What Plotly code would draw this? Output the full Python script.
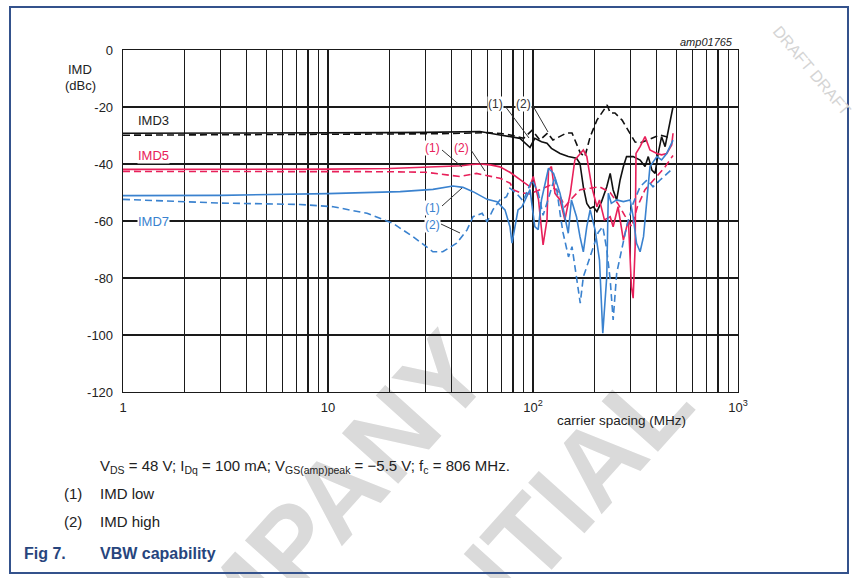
import plotly.graph_objects as go

# ---------------- data (carrier spacing MHz, IMD dBc) ----------------
imd3_low_x = [1, 3, 10, 20, 30, 40, 50, 55.1, 69, 86.4, 96.7, 102, 110, 117, 123, 135.5, 148.6, 163, 169.5,
              176, 183, 190, 197, 205, 216, 229, 238, 246, 256, 266, 276, 286, 308, 333, 352, 365, 380, 394,
              408, 424, 441, 457, 475, 482]
imd3_low_y = [-29.2, -29.2, -29.1, -29.0, -28.9, -28.7, -28.6, -28.6, -29.8, -31.0, -34.2, -31.0, -32.2, -32.7,
              -34.5, -36.3, -37.4, -38.0, -39.8, -48.0, -53.8, -55.6, -55.0, -56.7, -53.2, -48.0, -43.3, -49.1,
              -52.6, -45.6, -40.9, -37.4, -37.4, -38.6, -40.9, -37.4, -42.1, -43.3, -36.3, -30.4, -33.9, -28.1,
              -21.1, -19.9]

imd3_high_x = [1, 3, 10, 20, 30, 40, 50, 60, 70, 80, 90, 99, 108, 118, 125, 146, 155, 170, 179, 190, 205, 230,
               238, 251, 272, 291, 315, 333, 360, 394, 417, 451, 470]
imd3_high_y = [-29.9, -29.8, -29.7, -29.6, -29.4, -29.3, -29.1, -29.0, -29.3, -30.0, -31.0, -28.1, -31.6, -29.1,
               -31.6, -29.1, -29.1, -36.1, -37.5, -30.5, -24.6, -19.3, -22.1, -22.1, -24.6, -28.1, -32.3, -32.6,
               -31.6, -30.5, -29.8, -30.5, -29.5]

imd5_low_x = [1, 3, 10, 20, 30, 40, 45, 50, 55, 62, 69, 77.5, 86.4, 93.5, 96.7, 100.3, 106.4, 112, 117, 119, 123,
              128, 135.5, 143, 152, 160, 169.5, 176, 183, 193.5, 205, 211, 223, 238, 246, 260, 276, 292, 302,
              308, 315, 318, 333, 352, 372, 402, 424, 449, 475, 482]
imd5_low_y = [-41.9, -41.9, -41.8, -41.6, -41.2, -40.9, -40.6, -40.2, -40.0, -40.3, -41.0, -43.0, -45.5, -47.5,
              -48.0, -44.4, -52.6, -68.4, -59.6, -42.1, -40.9, -50.3, -52.6, -59.6, -50.3, -38.6, -36.3, -35.1,
              -37.4, -48.0, -55.0, -52.6, -59.6, -58.5, -62.0, -55.0, -66.7, -59.6, -83.0, -87.1, -69.0, -36.3,
              -33.9, -30.4, -35.1, -36.3, -36.8, -36.3, -33.3, -29.2]

imd5_high_x = [1, 3, 10, 20, 30, 35, 40, 44, 50, 53, 58, 69, 77.5, 80, 86.4, 96.7, 108, 121, 132, 143, 155, 170,
               190, 211, 238, 260, 280, 303, 323, 352, 394, 441, 482]
imd5_high_y = [-42.6, -42.6, -42.6, -42.7, -42.9, -43.5, -44.0, -44.4, -43.6, -43.3, -43.9, -45.0, -46.8, -49.0,
               -50.0, -50.5, -49.0, -47.5, -49.5, -55.0, -52.0, -49.0, -48.5, -48.0, -50.0, -54.0, -58.0, -62.0,
               -55.0, -49.0, -45.0, -41.0, -37.0]

imd7_low_x = [1, 3, 10, 15, 22.5, 32.5, 40.7, 45.5, 51, 59.7, 66.7, 73, 77.2, 79, 81.7, 84.5, 88.3, 96.7, 102,
              106, 110, 119, 126, 135.5, 143, 148.6, 154, 163, 169.5, 176, 183, 190, 201, 211, 219, 229, 233,
              241, 256, 276, 298, 308, 320, 333, 346, 359, 372, 402, 424, 449, 475, 482]
imd7_low_y = [-51.1, -51.0, -50.4, -50.1, -49.7, -48.9, -47.7, -48.2, -49.7, -52.4, -53.2, -56.1, -62.0, -67.8,
              -62.0, -56.1, -55.0, -49.0, -62.0, -63.0, -52.6, -41.5, -43.3, -50.3, -58.5, -64.3, -52.6, -58.5,
              -65.5, -70.8, -62.0, -56.1, -63.2, -73.7, -99.4, -79.5, -50.3, -53.8, -52.6, -53.2, -52.6, -58.5,
              -67.8, -70.8, -65.5, -53.8, -40.9, -37.4, -38.6, -36.3, -32.7, -31.6]

imd7_high_x = [1, 2.97, 7.3, 10.6, 15.5, 20.7, 26, 32.5, 36.3, 42.4, 47.6, 51, 56.5, 59.7, 63.7, 69, 74.3, 77.2,
               83.5, 89.5, 94.5, 98.9, 106, 112, 119, 128, 135.5, 140, 149, 155, 170, 176, 183, 197, 208, 219,
               229, 238, 246, 256, 272, 286, 308, 333, 360, 385, 417, 451, 482]
imd7_high_y = [-52.4, -53.7, -54.2, -55.0, -57.3, -60.8, -65.5, -70.8, -70.8, -67.8, -63.2, -58.5, -57.3, -60.3,
               -56.1, -52.6, -51.5, -48.5, -50.5, -53.0, -49.0, -45.6, -50.0, -58.0, -52.0, -44.4, -57.3, -64.0,
               -72.6, -69.0, -88.8, -79.6, -76.0, -69.0, -64.0, -62.0, -70.0, -80.7, -94.7, -78.3, -69.0, -62.0,
               -53.8, -48.0, -45.6, -48.0, -45.6, -43.3, -41.5]

y_ticks = [0, -20, -40, -60, -80, -100, -120]
y_tick_labels = ["0", "-20", "-40", "-60", "-80", "-100", "-120"]
x_major = [1, 10, 100, 1000]
x_major_labels = ["1", "10", "10<sup>2</sup>", "10<sup>3</sup>"]

BLACK = "#111111"
RED = "#e8205a"
BLUE = "#3a82cf"
FONT = "Liberation Sans, Arial, sans-serif"

# ---------------- geometry helpers (pixel -> paper) ----------------
L, R, T, B = 123, 738, 50, 392
W, H = 856, 578


def P(x, y):
    return (x - L) / (R - L), (B - y) / (B - T)


fig = go.Figure()
dash = "7px,4px"
for xs, ys, col, dsh in [
    (imd3_low_x, imd3_low_y, BLACK, "solid"),
    (imd3_high_x, imd3_high_y, BLACK, dash),
    (imd5_low_x, imd5_low_y, RED, "solid"),
    (imd5_high_x, imd5_high_y, RED, dash),
    (imd7_low_x, imd7_low_y, BLUE, "solid"),
    (imd7_high_x, imd7_high_y, BLUE, dash),
]:
    fig.add_trace(go.Scatter(x=xs, y=ys, mode="lines", line=dict(color=col, width=1.6, dash=dsh),
                             hoverinfo="skip", showlegend=False))

# x grid at every 1..9 of each decade
x_grid = []
x_text = []
for d in [1, 10, 100]:
    for k in range(1, 10):
        x_grid.append(k * d)
        x_text.append(x_major_labels[x_major.index(d)] if k == 1 else "")
x_grid.append(1000)
x_text.append(x_major_labels[-1])

fig.update_xaxes(type="log", range=[0, 3], tickvals=x_grid, ticktext=x_text, showgrid=True,
                 gridcolor="#1a1a1a", gridwidth=1.3, showline=True, linecolor="#1a1a1a", linewidth=1.3,
                 mirror=True, zeroline=False, ticks="outside", ticklen=3, tickcolor="rgba(0,0,0,0)",
                 tickfont=dict(family=FONT, size=13, color="#222"))
fig.update_yaxes(range=[-120, 0], tickvals=y_ticks, ticktext=y_tick_labels, showgrid=True,
                 gridcolor="#1a1a1a", gridwidth=1.3,
                 showline=True, linecolor="#1a1a1a", linewidth=1.3, mirror=True, zeroline=False,
                 ticks="outside", ticklen=6, tickcolor="rgba(0,0,0,0)",
                 tickfont=dict(family=FONT, size=13, color="#222"))

ann = []


def text(x, y, s, size=13, color="#222", xanchor="center", bg=None, **kw):
    px, py = P(x, y)
    d = dict(x=px, y=py, xref="paper", yref="paper", text=s, showarrow=False, xanchor=xanchor,
             yanchor="middle", font=dict(family=FONT, size=size, color=color))
    if bg:
        d["bgcolor"] = bg
        d["borderpad"] = 0
    d.update(kw)
    ann.append(d)


text(80, 69, "IMD", 13)
text(80, 85, "(dBc)", 13)
text(706, 42, "<i>amp01765</i>", 11)
text(621, 420, "carrier spacing (MHz)", 13.5)
text(153, 120, "IMD3", 13, "#222", bg="white")
text(153, 155, "IMD5", 13, RED, bg="white")
text(153, 221, "IMD7", 13, BLUE, bg="white")

# callout labels
text(495, 104, "(1)", 12, "#333", bg="white")
text(523, 104, "(2)", 12, "#333", bg="white")
text(432, 148, "(1)", 12, RED, bg="white")
text(461, 148, "(2)", 12, RED, bg="white")
text(432, 208, "(1)", 12, BLUE, bg="white")
text(432, 225, "(2)", 12, BLUE, bg="white")

# captions
text(98, 466, "V<sub>DS</sub> = 48 V; I<sub>Dq</sub> = 100 mA; V<sub>GS(amp)peak</sub> = \u22125.5 V; "
     "f<sub>c</sub> = 806 MHz.", 15, "#222", xanchor="left")
text(62, 493, "(1)", 15, "#222", xanchor="left")
text(98, 493, "IMD low", 15, "#222", xanchor="left")
text(62, 521, "(2)", 15, "#222", xanchor="left")
text(98, 521, "IMD high", 15, "#222", xanchor="left")
text(22, 553, "<b>Fig 7.</b>", 16, "#27457d", xanchor="left")
text(98, 553, "<b>VBW capability</b>", 16, "#27457d", xanchor="left")

# draft watermark at top right
text(812, 70, "DRAFT DRAFT", 16, "#d4d4d4", textangle=50)

shapes = []


def seg(x0, y0, x1, y1, col="#333"):
    a = P(x0, y0)
    b = P(x1, y1)
    shapes.append(dict(type="line", xref="paper", yref="paper", x0=a[0], y0=a[1], x1=b[0], y1=b[1],
                       line=dict(color=col, width=1)))


seg(505, 106, 529, 138)
seg(533, 106, 548, 132)
seg(442, 150, 462, 167)
seg(471, 150, 485, 171)
seg(442, 206, 462, 188)
seg(441, 224, 460, 233)

# big COMPANY CONFIDENTIAL watermark (below grid)
for cx, cy, word in [(274, 549, "COMPANY"), (388, 679, "CONFIDENTIAL")]:
    a = P(cx - 1, cy - 1)
    b = P(cx + 1, cy + 1)
    shapes.append(dict(type="rect", xref="paper", yref="paper", x0=a[0], y0=b[1], x1=b[0], y1=a[1],
                       layer="below", line=dict(width=0), fillcolor="rgba(0,0,0,0)",
                       label=dict(text=word, textangle=-48, textposition="middle center",
                                  font=dict(family=FONT, size=110, color="#dadada", weight="bold"))))

# outer frame
a = P(10, 7)
b = P(848, 573)
shapes.append(dict(type="rect", xref="paper", yref="paper", x0=a[0], y0=b[1], x1=b[0], y1=a[1],
                   line=dict(color="#34528c", width=2), fillcolor="rgba(0,0,0,0)"))

fig.update_layout(width=W, height=H, margin=dict(l=L, r=W - R, t=T, b=H - B, pad=0),
                  paper_bgcolor="white", plot_bgcolor="rgba(0,0,0,0)", showlegend=False,
                  annotations=ann, shapes=shapes)

fig.write_html("out.html", config={"displayModeBar": False, "staticPlot": True},
               post_script="document.body.style.margin='0';document.body.style.overflow='hidden';")
